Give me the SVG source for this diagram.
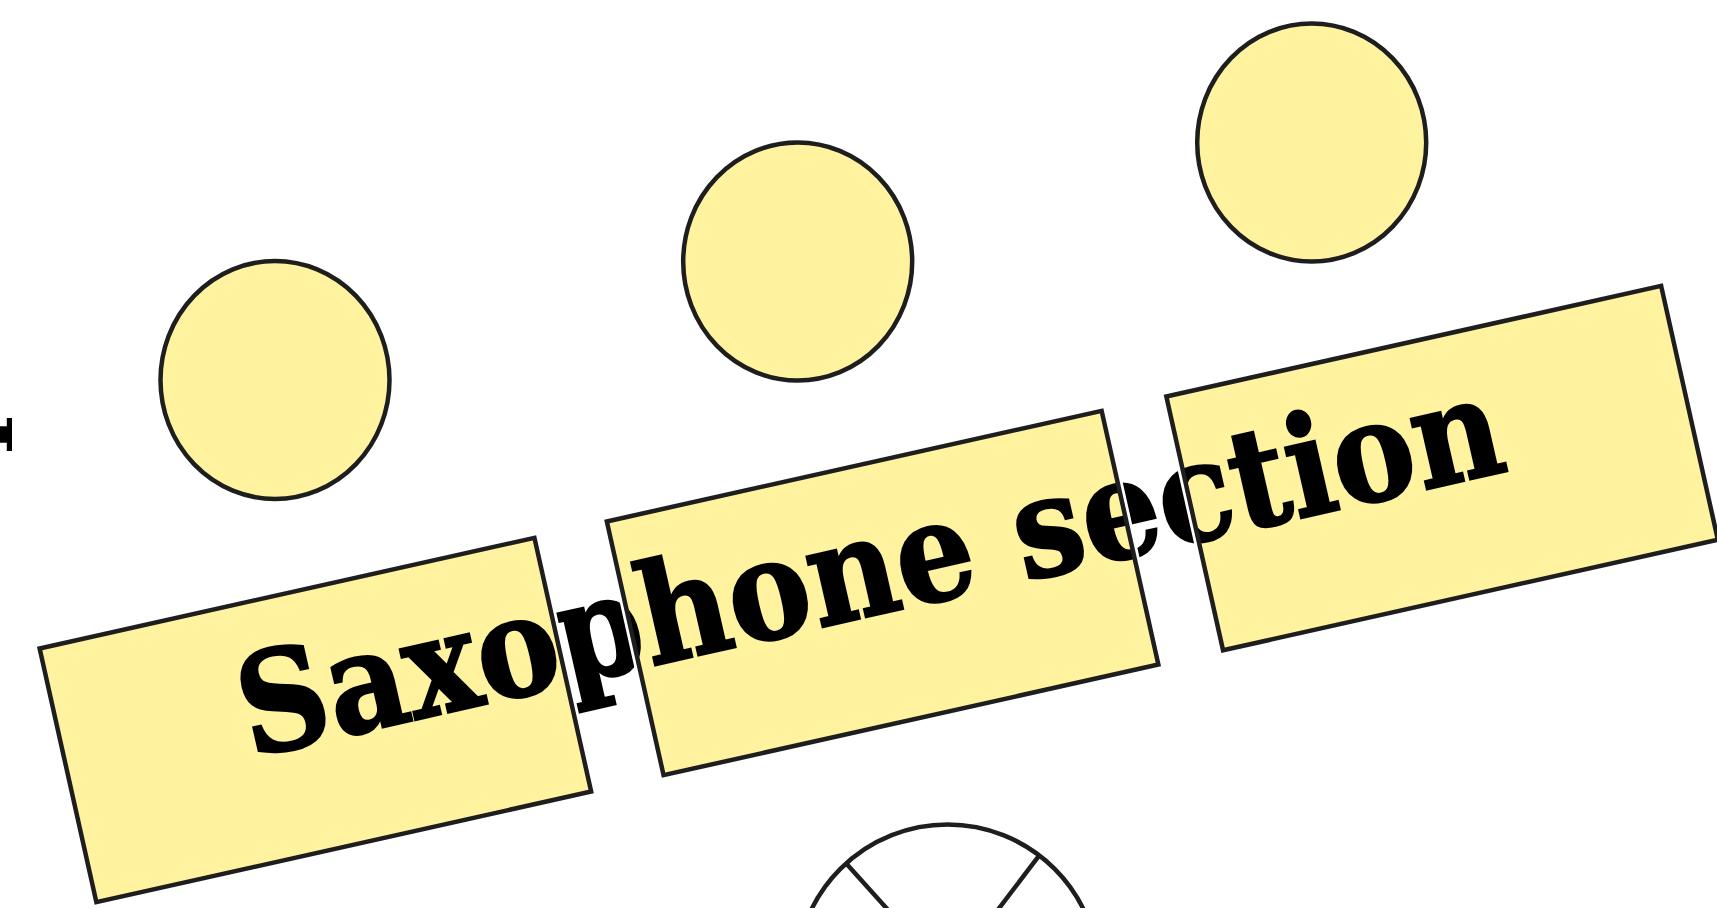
<svg xmlns="http://www.w3.org/2000/svg" width="1717" height="908" viewBox="0 0 1717 908">
<style>
.seat{fill:#FFF3A0;stroke:#1e1e1e;stroke-width:4.5}
.halo{fill:#fff;stroke:#fff;stroke-width:10}
.fill{fill:#FFF3A0}
.edge{fill:none;stroke:#1e1e1e;stroke-width:4.5}
.lbl{font-family:"DejaVu Serif","Liberation Serif",serif;font-weight:bold;font-size:139px;fill:#000;stroke:#000;stroke-width:2.4}
.frag{font-family:"DejaVu Serif","Liberation Serif",serif;font-weight:bold;font-size:88px;fill:#000}
.ln{fill:none;stroke:#1e1e1e;stroke-width:4.5}
</style>
<defs>
<rect id="box" x="-253.5" y="-130" width="507" height="260"/>
<clipPath id="c1"><use href="#box" transform="translate(315.4 720) rotate(-12.6)"/></clipPath>
<clipPath id="c2"><use href="#box" transform="translate(882.6 593) rotate(-12.6)"/></clipPath>
<clipPath id="c3"><use href="#box" transform="translate(1442.1 468.1) rotate(-12.6)"/></clipPath>
</defs>
<g id="connectors"></g>
<g id="seat1"><ellipse class="seat" cx="275" cy="380" rx="114.5" ry="119"/></g>
<g id="seat2"><ellipse class="seat" cx="797.7" cy="261.5" rx="114.5" ry="119"/></g>
<g id="seat3"><ellipse class="seat" cx="1311.7" cy="142.5" rx="114.5" ry="119"/></g>
<g id="fragment"><text class="frag" x="12.3" y="434.5" text-anchor="middle" transform="rotate(-90 12.3 434.5)">I</text></g>
<text id="label" class="lbl" x="880.3" y="614" text-anchor="middle" textLength="1292" lengthAdjust="spacingAndGlyphs" transform="rotate(-12.85 880.3 614)">Saxophone section</text>
<g id="stand1" transform="translate(315.4 720) rotate(-12.6)">
<use href="#box" class="halo"/><use href="#box" class="fill"/>
</g>
<use href="#label" clip-path="url(#c1)"/>
<use href="#box" class="edge" transform="translate(315.4 720) rotate(-12.6)"/>
<g id="stand2" transform="translate(882.6 593) rotate(-12.6)">
<use href="#box" class="halo"/><use href="#box" class="fill"/>
</g>
<use href="#label" clip-path="url(#c2)"/>
<use href="#box" class="edge" transform="translate(882.6 593) rotate(-12.6)"/>
<g id="stand3" transform="translate(1442.1 468.1) rotate(-12.6)">
<use href="#box" class="halo"/><use href="#box" class="fill"/>
</g>
<use href="#label" clip-path="url(#c3)"/>
<use href="#box" class="edge" transform="translate(1442.1 468.1) rotate(-12.6)"/>
<g id="conductor">
<circle class="ln" cx="947.5" cy="976" r="151.5"/>
<line class="ln" x1="846.7" y1="864" x2="947.5" y2="976"/>
<line class="ln" x1="1038.3" y1="856.7" x2="947.5" y2="976"/>
</g>
</svg>
